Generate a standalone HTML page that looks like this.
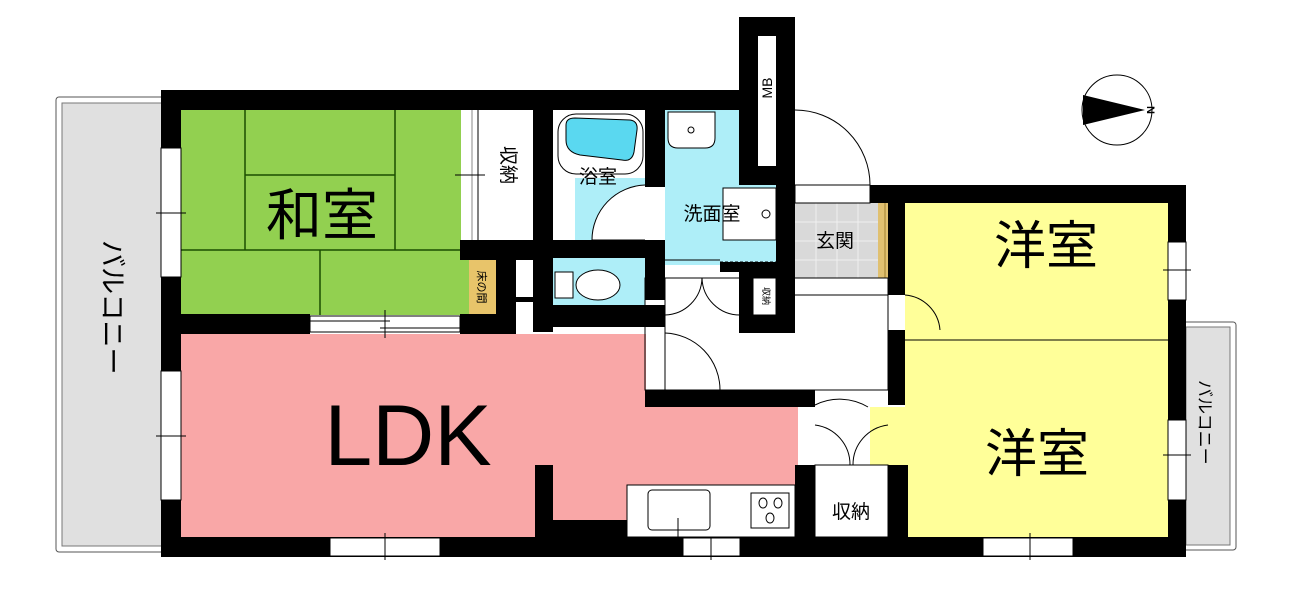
<!DOCTYPE html>
<html><head><meta charset="utf-8"><style>
body{margin:0;background:#fff;}
svg text{font-family:"Liberation Sans","Noto Sans CJK JP",sans-serif;}
</style></head><body>
<svg width="1293" height="589" viewBox="0 0 1293 589" xmlns="http://www.w3.org/2000/svg">
<rect width="1293" height="589" fill="#fff"/>
<rect x="56" y="97" width="110" height="455" rx="3" fill="#fff" stroke="#555" stroke-width="1"/>
<rect x="62" y="103" width="100" height="443" fill="#e0e0e0" stroke="#777" stroke-width="1"/>
<rect x="1182" y="322" width="54" height="228" rx="3" fill="#fff" stroke="#555"/>
<rect x="1186" y="327" width="44" height="218" fill="#e0e0e0" stroke="#777"/>
<text x="0" y="0" font-size="27" transform="translate(103,240) rotate(90)">バルコニー</text>
<text x="0" y="0" font-size="17" transform="translate(1199,380) rotate(90)">バルコニー</text>

<rect x="181" y="110" width="280" height="205" fill="#92d050"/>
<rect x="460" y="250" width="36" height="65" fill="#92d050"/>
<rect x="469" y="260" width="27" height="55" fill="#e8c46a"/>
<rect x="181" y="334" width="465" height="204" fill="#f9a7a7"/>
<rect x="640" y="407" width="158" height="80" fill="#f9a7a7"/>
<rect x="665" y="110" width="112" height="155" fill="#aeeef8"/>
<rect x="575" y="178" width="70" height="65" fill="#aeeef8"/>
<rect x="553" y="258" width="92" height="50" fill="#aeeef8"/>
<rect x="795" y="203" width="85" height="75" fill="#d9d9d9"/>
<g stroke="#f0f0f0" stroke-width="1">
<line x1="816" y1="203" x2="816" y2="278"/><line x1="837" y1="203" x2="837" y2="278"/><line x1="858" y1="203" x2="858" y2="278"/>
<line x1="795" y1="222" x2="880" y2="222"/><line x1="795" y1="241" x2="880" y2="241"/><line x1="795" y1="260" x2="880" y2="260"/>
</g>
<rect x="878" y="203" width="27" height="75" fill="#e0c070"/>
<g stroke="#a08030"><line x1="885" y1="203" x2="885" y2="278"/><line x1="892" y1="203" x2="892" y2="278"/><line x1="899" y1="203" x2="899" y2="278"/></g>
<rect x="905" y="203" width="265" height="335" fill="#ffff99"/>
<rect x="870" y="407" width="40" height="60" fill="#ffff99"/>
<line x1="905" y1="340" x2="1168" y2="340" stroke="#000" stroke-width="1"/>

<g stroke="#1a4d00" stroke-width="1.5" fill="none">
<line x1="245" y1="110" x2="245" y2="250"/><line x1="395" y1="110" x2="395" y2="250"/>
<line x1="245" y1="175" x2="395" y2="175"/>
<line x1="181" y1="250" x2="469" y2="250"/>
<line x1="320" y1="250" x2="320" y2="315"/>
</g>

<g fill="#000">
<rect x="161" y="90" width="597" height="20"/>
<rect x="161" y="90" width="20" height="467"/>
<rect x="161" y="537" width="1025" height="20"/>
<rect x="1168" y="185" width="18" height="372"/>
<rect x="870" y="185" width="316" height="18"/>
<rect x="739" y="17" width="56" height="168"/>
<rect x="776" y="17" width="19" height="316"/>
<rect x="739" y="270" width="56" height="63"/>
<rect x="533" y="110" width="20" height="222"/>
<rect x="645" y="110" width="20" height="77"/>
<rect x="645" y="240" width="20" height="60"/>
<rect x="553" y="240" width="112" height="18"/>
<rect x="533" y="305" width="132" height="22"/>
<rect x="720" y="262" width="56" height="10"/>
<rect x="460" y="240" width="73" height="20"/>
<rect x="496" y="240" width="20" height="75"/>
<rect x="161" y="314" width="149" height="20"/>
<rect x="460" y="314" width="56" height="20"/>
<rect x="516" y="297" width="17" height="5"/>
<rect x="645" y="390" width="170" height="17"/>
<rect x="795" y="390" width="20" height="15"/>
<rect x="795" y="465" width="20" height="80"/>
<rect x="888" y="185" width="17" height="110"/>
<rect x="888" y="330" width="17" height="75"/>
<rect x="888" y="465" width="20" height="80"/>
<rect x="535" y="465" width="18" height="75"/>
<rect x="553" y="520" width="75" height="20"/>
</g>
<g fill="none" stroke="#000" stroke-width="1">
<rect x="645" y="278" width="243" height="112"/>
<line x1="665" y1="278" x2="665" y2="390"/>
<line x1="795" y1="278" x2="888" y2="278"/>
<line x1="795" y1="295" x2="888" y2="295"/>
</g>

<g fill="#fff" stroke="#000" stroke-width="1">
<rect x="161" y="148" width="20" height="129"/>
<rect x="161" y="371" width="20" height="129"/>
<rect x="310" y="316" width="150" height="16"/>
<rect x="330" y="538" width="110" height="18"/>
<rect x="683" y="538" width="57" height="18"/>
<rect x="983" y="538" width="90" height="18"/>
<rect x="1168" y="242" width="18" height="58"/>
<rect x="1168" y="420" width="18" height="80"/>
</g>
<g stroke="#000" stroke-width="1">
<line x1="156" y1="213" x2="186" y2="213"/><line x1="156" y1="436" x2="186" y2="436"/>
<line x1="385" y1="310" x2="385" y2="338"/><line x1="310" y1="321" x2="390" y2="321"/><line x1="380" y1="328" x2="460" y2="328"/>
<line x1="385" y1="533" x2="385" y2="560"/><line x1="711" y1="533" x2="711" y2="560"/><line x1="1030" y1="533" x2="1030" y2="560"/>
<line x1="1163" y1="270" x2="1191" y2="270"/><line x1="1163" y1="455" x2="1191" y2="455"/>
</g>

<rect x="461" y="110" width="72" height="130" fill="#fff"/>
<line x1="478" y1="110" x2="478" y2="240" stroke="#000"/>
<line x1="472" y1="110" x2="472" y2="240" stroke="#888"/>
<line x1="455" y1="175" x2="485" y2="175" stroke="#000"/>
<rect x="516" y="260" width="17" height="37" fill="#fff"/>

<rect x="553" y="110" width="92" height="68" fill="#fff"/>
<rect x="558" y="114" width="85" height="60" rx="18" fill="#fff" stroke="#000"/>
<path d="M566 125 Q566 118 575 118 L630 120 Q638 121 637 130 L634 152 Q632 162 622 160 L580 155 Q566 152 566 140 Z" fill="#5ad8f0" stroke="#000"/>
<rect x="553" y="178" width="22" height="62" fill="#fff"/>
<path d="M645 185 A55 55 0 0 0 592 240 L645 240" fill="#fff" stroke="#000"/>
<rect x="555" y="272" width="18" height="26" fill="#fff" stroke="#000"/>
<ellipse cx="598" cy="285" rx="22" ry="15" fill="#fff" stroke="#000"/>
<path d="M668 112 L715 112 L715 138 Q715 148 705 148 L678 148 Q668 148 668 138 Z" fill="#fff" stroke="#000"/>
<circle cx="691" cy="130" r="3" fill="none" stroke="#000"/>
<rect x="723" y="188" width="53" height="52" fill="#fff" stroke="#000"/>
<circle cx="766" cy="214" r="4" fill="#fff" stroke="#000"/>
<line x1="665" y1="260" x2="720" y2="260" stroke="#000"/>
<line x1="720" y1="262" x2="776" y2="262" stroke="#000" stroke-dasharray="3,2"/>
<rect x="758" y="36" width="18" height="130" fill="#fff"/>
<text x="0" y="0" font-size="14" transform="translate(772,88) rotate(-90)" text-anchor="middle">MB</text>
<path d="M795 110 A75 75 0 0 1 870 185" fill="none" stroke="#000"/>
<rect x="795" y="185" width="75" height="18" fill="#fff" stroke="#000"/>
<rect x="753" y="278" width="23" height="37" fill="#fff" stroke="#000"/>
<text x="0" y="0" font-size="9" transform="translate(763,296) rotate(90)" text-anchor="middle">収納</text>
<g fill="none" stroke="#000">
<path d="M665 315 A38 38 0 0 0 702 278"/><path d="M702 278 A38 38 0 0 0 740 315"/>
<path d="M665 333 A57 57 0 0 1 720 390"/>
<path d="M905 295 A38 38 0 0 1 940 330"/>
<path d="M815 425 A40 40 0 0 1 850 465"/><path d="M888 425 A40 40 0 0 0 853 465"/>
<path d="M815 405 A55 55 0 0 1 868 407"/>
</g>
<rect x="815" y="465" width="73" height="72" fill="#fff" stroke="#000"/>
<rect x="627" y="485" width="168" height="52" fill="#fff" stroke="#000"/>
<rect x="648" y="490" width="62" height="40" rx="4" fill="#fff" stroke="#000"/>
<line x1="678" y1="518" x2="678" y2="537" stroke="#000"/>
<rect x="751" y="493" width="38" height="35" fill="#fff" stroke="#000"/>
<ellipse cx="763" cy="503" rx="4" ry="5" fill="none" stroke="#000"/><ellipse cx="778" cy="503" rx="4" ry="5" fill="none" stroke="#000"/><ellipse cx="770" cy="518" rx="4" ry="5" fill="none" stroke="#000"/>

<text x="322" y="235" font-size="56" text-anchor="middle">和室</text>
<text x="0" y="0" font-size="19" transform="translate(502,165) rotate(90)" text-anchor="middle">収納</text>
<text x="0" y="0" font-size="11" transform="translate(478,287) rotate(90)" text-anchor="middle">床の間</text>
<text x="598" y="183" font-size="19" text-anchor="middle">浴室</text>
<text x="712" y="220" font-size="19" text-anchor="middle">洗面室</text>
<text x="835" y="247" font-size="19" text-anchor="middle">玄関</text>
<text x="1046" y="264" font-size="52" text-anchor="middle">洋室</text>
<text x="1037" y="472" font-size="52" text-anchor="middle">洋室</text>
<text x="408" y="465" font-size="86" text-anchor="middle">LDK</text>
<text x="851" y="518" font-size="19" text-anchor="middle">収納</text>

<circle cx="1117" cy="110" r="35" fill="#fff" stroke="#000"/>
<path d="M1083 95 L1145 110 L1083 125 Z" fill="#000"/>
<text x="0" y="0" font-size="11" font-weight="bold" transform="translate(1147,110) rotate(90)" text-anchor="middle">N</text>
</svg>
</body></html>
